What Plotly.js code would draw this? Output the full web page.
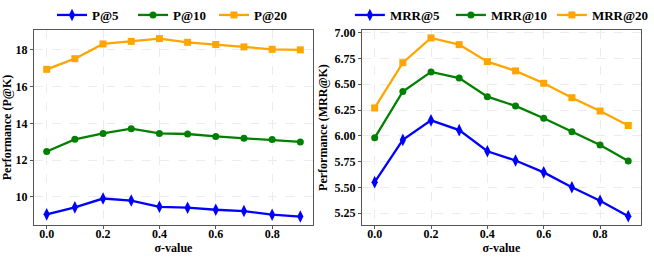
<!DOCTYPE html>
<html>
<head>
<meta charset="utf-8">
<script src="https://cdn.plot.ly/plotly-3.0.1.min.js"></script>
<style>html,body{margin:0;padding:0;background:#fff;}#chart{width:654px;height:257px;}</style>
</head>
<body>
<div id="chart"></div>
<script>
const sigma = [0.0, 0.1, 0.2, 0.3, 0.4, 0.5, 0.6, 0.7, 0.8, 0.9];
const p5  = [9.05, 9.43, 9.91, 9.80, 9.46, 9.41, 9.30, 9.23, 9.03, 8.93];
const p10 = [12.47, 13.13, 13.45, 13.71, 13.45, 13.42, 13.29, 13.19, 13.12, 12.99];
const p20 = [16.94, 17.52, 18.32, 18.46, 18.61, 18.41, 18.29, 18.16, 18.03, 18.00];
const mrr5  = [5.55, 5.96, 6.15, 6.055, 5.85, 5.76, 5.645, 5.50, 5.37, 5.22];
const mrr10 = [5.98, 6.43, 6.62, 6.56, 6.38, 6.29, 6.17, 6.04, 5.91, 5.755];
const mrr20 = [6.27, 6.71, 6.95, 6.885, 6.72, 6.63, 6.51, 6.37, 6.24, 6.10];
const xTicks = [0.0, 0.2, 0.4, 0.6, 0.8];
const xTickText = ['0.0', '0.2', '0.4', '0.6', '0.8'];
const yTicksL = [10, 12, 14, 16, 18];
const yTicksR = [5.25, 5.50, 5.75, 6.00, 6.25, 6.50, 6.75, 7.00];
const yTickTextR = ['5.25', '5.50', '5.75', '6.00', '6.25', '6.50', '6.75', '7.00'];

const BLUE = '#0000ff', GREEN = '#008000', ORANGE = '#ffa500';
const font = {family: 'Liberation Serif, Times New Roman, serif', size: 12, color: '#000', weight: 700};
const legFont = {family: 'Liberation Serif, Times New Roman, serif', size: 13, color: '#000', weight: 700};

function tr(x, y, name, color, symbol, size, xa, ya, leg) {
  return {x: x, y: y, name: name, type: 'scatter', mode: 'lines+markers',
    xaxis: xa, yaxis: ya, legend: leg,
    line: {color: color, width: 2.3},
    marker: {color: color, symbol: symbol, size: size}};
}

const data = [
  tr(sigma, p5, 'P@5', BLUE, 'diamond-tall', 9, 'x', 'y', 'legend'),
  tr(sigma, p10, 'P@10', GREEN, 'circle', 7, 'x', 'y', 'legend'),
  tr(sigma, p20, 'P@20', ORANGE, 'square', 7, 'x', 'y', 'legend'),
  tr(sigma, mrr5, 'MRR@5', BLUE, 'diamond-tall', 9, 'x2', 'y2', 'legend2'),
  tr(sigma, mrr10, 'MRR@10', GREEN, 'circle', 7, 'x2', 'y2', 'legend2'),
  tr(sigma, mrr20, 'MRR@20', ORANGE, 'square', 7, 'x2', 'y2', 'legend2')
];

const axBase = {
  showline: true, mirror: true, linecolor: '#555', linewidth: 1,
  ticks: 'outside', ticklen: 3, tickcolor: '#555',
  showgrid: true, gridcolor: '#ececec', griddash: 'dash', gridwidth: 1,
  zeroline: false, tickfont: font
};
const xBase = Object.assign({}, axBase, {ticklabelstandoff: -5});

const legBase = {orientation: 'h', font: legFont,
  yref: 'container', y: 1.0, yanchor: 'top', xanchor: 'left',
  bgcolor: 'rgba(0,0,0,0)', tracegroupgap: 0};

const layout = {
  width: 654, height: 257,
  margin: {l: 0, r: 0, t: 28, b: 32},
  paper_bgcolor: '#fff', plot_bgcolor: '#fff',
  font: font,
  showlegend: true,
  xaxis: Object.assign({}, xBase, {domain: [0.052, 0.4786], range: [-0.045, 0.945],
    tickvals: xTicks, ticktext: xTickText, anchor: 'y',
    title: {text: 'σ-value', font: font, standoff: 0}}),
  yaxis: Object.assign({}, axBase, {domain: [0, 1], range: [8.47, 19.08],
    tickvals: yTicksL, anchor: 'x',
    title: {text: 'Performance (P@K)', font: font, standoff: 4}}),
  xaxis2: Object.assign({}, xBase, {domain: [0.5535, 0.980], range: [-0.045, 0.945],
    tickvals: xTicks, ticktext: xTickText, anchor: 'y2',
    title: {text: 'σ-value', font: font, standoff: 0}}),
  yaxis2: Object.assign({}, axBase, {domain: [0, 1], range: [5.134, 7.027],
    tickvals: yTicksR, ticktext: yTickTextR, anchor: 'x2',
    title: {text: 'Performance (MRR@K)', font: font, standoff: 4}}),
  legend: Object.assign({}, legBase, {x: 0.0795, entrywidth: 36}),
  legend2: Object.assign({}, legBase, {x: 0.535, entrywidth: 56})
};

Plotly.newPlot('chart', data, layout, {displayModeBar: false, staticPlot: true});
</script>
</body>
</html>
